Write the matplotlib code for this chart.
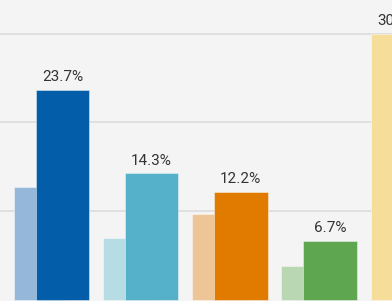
import numpy as np
import matplotlib.pyplot as plt

# valores (porcentaje)
grupos = ["A", "B", "C", "D", "E"]
previo = [12.75, 6.94, 9.66, 3.88, 30.0]
actual = [23.7, 14.3, 12.2, 6.7, None]
etiqueta_previo = [None, None, None, None, "30.0%"]

col_actual = ["#045da9", "#55b0c9", "#e07b00", "#5fa651", "#e8b100"]
col_previo = ["#94b7da", "#b6dce4", "#eec596", "#b9d7b2", "#f6de9a"]

plt.rcParams['font.family'] = ['Roboto', 'DejaVu Sans']

fig = plt.figure(figsize=(3.92, 3.01), dpi=100)
fig.patch.set_facecolor("#f4f4f4")
ax = fig.add_axes([0, 0, 1, 1])
ax.set_facecolor("#f4f4f4")

x = np.arange(len(grupos))
ancho = 0.6
desp = 0.245

for i in range(len(grupos)):
    ax.bar(x[i] - desp, previo[i], ancho, color=col_previo[i],
           edgecolor=(1, 1, 1, 0.5), linewidth=0.6, zorder=2)
    if etiqueta_previo[i]:
        # la etiqueta queda cortada en el borde, como en el original
        ax.annotate(etiqueta_previo[i], (x[i] - desp, previo[i]),
                    xytext=(0, 4), textcoords="offset points",
                    ha="center", va="bottom", fontsize=11, color="#333333",
                    annotation_clip=False)
    if actual[i] is not None:
        ax.bar(x[i], actual[i], ancho, color=col_actual[i],
               edgecolor=(1, 1, 1, 0.5), linewidth=0.6, zorder=3)
        ax.annotate(f"{actual[i]:.1f}%", (x[i], actual[i]),
                    xytext=(0, 4), textcoords="offset points",
                    ha="center", va="bottom", fontsize=11, color="#333333")

for v in [10, 20, 30]:
    ax.axhline(v, color="#dcdcdc", linewidth=1.2, zorder=1)

ax.set_xlim(-0.70, 3.694)
ax.set_ylim(-0.11, 33.8)
ax.axis("off")

fig.savefig("out.png", dpi=100, facecolor=fig.get_facecolor())
